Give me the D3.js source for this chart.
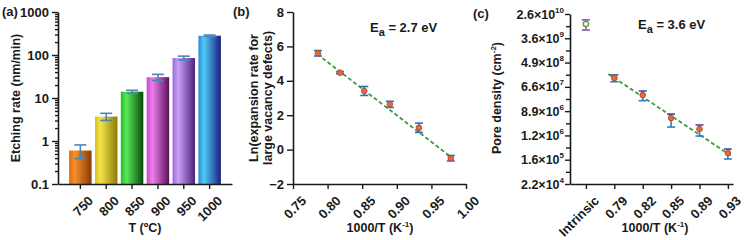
<!DOCTYPE html>
<html><head><meta charset="utf-8">
<script src="https://cdn.jsdelivr.net/npm/d3@7"></script>
<style>
body{margin:0;background:#fff;}
svg text{font-family:"Liberation Sans",Arial,sans-serif;font-weight:bold;fill:#1a1a1a;}
</style></head>
<body>
<svg id="chart" width="746" height="240"></svg>
<script>
// ---------- Data ----------
// Panel (a): etching rate vs temperature
const aTemps = ["750", "800", "850", "900", "950", "1000"];
const aRates = [0.6, 3.7, 14.0, 30.5, 85, 281];
const aErrors = [0.21, 0.7, 1.1, 5, 9, 10];
const aYTicks = [0.1, 1, 10, 100, 1000];
// Panel (b): ln(expansion rate) vs 1000/T
const bInvT = [0.786, 0.818, 0.853, 0.890, 0.932, 0.978];
const bLnRate = [5.6, 4.47, 3.41, 2.63, 1.27, -0.5];
const bErrors = [0.16, 0.06, 0.26, 0.18, 0.27, 0.16];
const bFitX = [0.785, 0.980];
const bFitY = [5.55, -0.48];
const bXTicks = [0.75, 0.80, 0.85, 0.90, 0.95, 1.00];
const bYTicks = [-2, 0, 2, 4, 6, 8];
// Panel (c): pore density (ln values of cm^-2) vs 1000/T
const cCategories = ["Intrinsic", "0.79", "0.82", "0.85", "0.89", "0.93"];
const cLnDensity = [23.18, 18.73, 17.33, 15.43, 14.53, 12.55];
const cLnUpper = [23.52, 18.98, 17.66, 15.76, 14.86, 12.88];
const cLnLower = [22.68, 18.42, 16.86, 14.69, 13.95, 12.06];
const cFitIndex = [0.79, 5.18];
const cFitLn = [19.06, 12.22];
const cMajorLnTicks = [10, 12, 14, 16, 18, 20, 22, 24];
const cMinorLnTicks = [11, 13, 15, 17, 19, 21, 23];

const barColors = [
  ["#f5902a", "#e06a0a", "#8a3a05"],
  ["#f2e24a", "#d8c020", "#8c7a08"],
  ["#5ae85a", "#20c020", "#064a0a"],
  ["#ee80ee", "#c848c8", "#5a105a"],
  ["#c8a0f5", "#9a68d8", "#4a2280"],
  ["#50cbf5", "#2a88d8", "#1a1e80"]
];

const svg = d3.select("#chart");
const defs = svg.append("defs");
barColors.forEach((c, i) => {
  const g = defs.append("linearGradient").attr("id", "bg" + i)
    .attr("x1", "0%").attr("x2", "100%").attr("y1", "0%").attr("y2", "0%");
  g.append("stop").attr("offset", "0%").attr("stop-color", c[1]);
  g.append("stop").attr("offset", "25%").attr("stop-color", c[0]);
  g.append("stop").attr("offset", "100%").attr("stop-color", c[2]);
});

function styleAxis(g) {
  g.selectAll(".domain").attr("stroke", "#1a1a1a").attr("stroke-width", 1.6);
  g.selectAll(".tick line").attr("stroke", "#1a1a1a").attr("stroke-width", 1.4);
  g.selectAll(".tick text").attr("font-size", 12.5).attr("fill", "#1a1a1a")
    .style("font-family", '"Liberation Sans",Arial,sans-serif').style("font-weight", "bold");
}
function rotateXLabels(g) {
  g.selectAll(".tick text")
    .attr("font-size", 13)
    .attr("text-anchor", "end")
    .attr("transform", "translate(1,5) rotate(-45)")
    .attr("dx", 0).attr("dy", "0.75em");
}

// ---------- Panel (a) ----------
{
  const x = d3.scaleBand().domain(aTemps).range([58, 232]).paddingInner(0.13).paddingOuter(0.43);
  const y = d3.scaleLog().domain([0.1, 1000]).range([184, 12]);
  const g = svg.append("g");
  aTemps.forEach((t, i) => {
    g.append("rect").attr("x", x(t)).attr("width", x.bandwidth())
      .attr("y", y(aRates[i])).attr("height", y(0.1) - y(aRates[i]))
      .attr("fill", `url(#bg${i})`);
  });
  const eb = g.append("g").attr("stroke", "#4a86b8").attr("stroke-width", 1.6);
  aTemps.forEach((t, i) => {
    const cx = x(t) + x.bandwidth() / 2;
    const hi = y(aRates[i] + aErrors[i]), lo = y(aRates[i] - aErrors[i]);
    eb.append("line").attr("x1", cx).attr("x2", cx).attr("y1", hi).attr("y2", lo);
    eb.append("line").attr("x1", cx - 6).attr("x2", cx + 6).attr("y1", hi).attr("y2", hi);
    eb.append("line").attr("x1", cx - 6).attr("x2", cx + 6).attr("y1", lo).attr("y2", lo);
  });
  const minor = [];
  for (let d = 0.1; d < 1000; d *= 10) for (let k = 2; k <= 9; k++) minor.push(d * k);
  const ym = svg.append("g").attr("transform", "translate(58,0)")
    .call(d3.axisLeft(y).tickValues(minor).tickSize(3).tickFormat(""));
  styleAxis(ym); ym.select(".domain").remove();
  const ya = svg.append("g").attr("transform", "translate(58,0)")
    .call(d3.axisLeft(y).tickValues(aYTicks).tickSize(6).tickSizeOuter(0)
      .tickFormat(d => d >= 1 ? d3.format("d")(d) : String(d)));
  styleAxis(ya);
  ya.selectAll(".tick text").attr("font-size", 13);
  const xa = svg.append("g").attr("transform", "translate(0,184)")
    .call(d3.axisBottom(x).tickSize(5).tickSizeOuter(0));
  styleAxis(xa); rotateXLabels(xa);
  svg.append("text").attr("transform", "translate(20,98) rotate(-90)")
    .attr("text-anchor", "middle").attr("font-size", 12.5).text("Etching rate (nm/min)");
  svg.append("text").attr("x", 145).attr("y", 232).attr("text-anchor", "middle")
    .attr("font-size", 12.5).text("T (ºC)");
  svg.append("text").attr("x", 2).attr("y", 16).attr("font-size", 13).text("(a)");
}

// ---------- Panel (b) ----------
{
  const x = d3.scaleLinear().domain([0.75, 1.0]).range([293, 466]);
  const y = d3.scaleLinear().domain([-2, 8]).range([184, 12]);
  const g = svg.append("g");
  g.append("line").attr("x1", x(bFitX[0])).attr("x2", x(bFitX[1]))
    .attr("y1", y(bFitY[0])).attr("y2", y(bFitY[1]))
    .attr("stroke", "#3f9a3a").attr("stroke-width", 1.8).attr("stroke-dasharray", "4,2.5");
  const eb = g.append("g").attr("stroke", "#2c6fb4").attr("stroke-width", 1.6);
  bInvT.forEach((v, i) => {
    const cx = x(v), hi = y(bLnRate[i] + bErrors[i]), lo = y(bLnRate[i] - bErrors[i]);
    eb.append("line").attr("x1", cx).attr("x2", cx).attr("y1", hi).attr("y2", lo);
    eb.append("line").attr("x1", cx - 4).attr("x2", cx + 4).attr("y1", hi).attr("y2", hi);
    eb.append("line").attr("x1", cx - 4).attr("x2", cx + 4).attr("y1", lo).attr("y2", lo);
  });
  g.selectAll("circle.b").data(bInvT).enter().append("circle")
    .attr("cx", d => x(d)).attr("cy", (d, i) => y(bLnRate[i])).attr("r", 2.8)
    .attr("fill", "#e8683a").attr("stroke", "#b0503a").attr("stroke-width", 1);
  const ya = svg.append("g").attr("transform", "translate(293,0)")
    .call(d3.axisLeft(y).tickValues(bYTicks).tickSize(6).tickSizeOuter(0));
  styleAxis(ya); ya.selectAll(".tick text").attr("font-size", 13);
  const xa = svg.append("g").attr("transform", "translate(0,184)")
    .call(d3.axisBottom(x).tickValues(bXTicks).tickSize(5).tickSizeOuter(0).tickFormat(d3.format(".2f")));
  styleAxis(xa); rotateXLabels(xa);
  const t = svg.append("text").attr("transform", "translate(258,98) rotate(-90)")
    .attr("text-anchor", "middle").attr("font-size", 12.5);
  t.append("tspan").attr("x", 0).attr("dy", 0).text("Ln(expansion rate for");
  t.append("tspan").attr("x", 0).attr("dy", 14).text("large vacancy defects)");
  const xt = svg.append("text").attr("x", 380).attr("y", 232).attr("text-anchor", "middle").attr("font-size", 12.5);
  xt.append("tspan").text("1000/T (K");
  xt.append("tspan").attr("font-size", 8).attr("dy", -5).text("-1");
  xt.append("tspan").attr("dy", 5).text(")");
  const ea = svg.append("text").attr("x", 370).attr("y", 32).attr("font-size", 13);
  ea.append("tspan").text("E");
  ea.append("tspan").attr("font-size", 11).attr("dy", 4).text("a");
  ea.append("tspan").attr("dy", -4).text(" = 2.7 eV");
  svg.append("text").attr("x", 233).attr("y", 16).attr("font-size", 13).text("(b)");
}

// ---------- Panel (c) ----------
{
  const x = d3.scaleLinear().domain([-0.56, 5.18]).range([570, 733]);
  const y = d3.scaleLinear().domain([10, 24]).range([184, 14]);
  const g = svg.append("g");
  g.append("line").attr("x1", x(cFitIndex[0])).attr("x2", x(cFitIndex[1]))
    .attr("y1", y(cFitLn[0])).attr("y2", y(cFitLn[1]))
    .attr("stroke", "#3f9a3a").attr("stroke-width", 1.8).attr("stroke-dasharray", "4,2.5");
  cCategories.forEach((c, i) => {
    const cx = x(i), cy = y(cLnDensity[i]), hi = y(cLnUpper[i]), lo = y(cLnLower[i]);
    const upCol = i === 0 ? "#8a5aa8" : "#4a4aa0";
    const loCol = i === 0 ? "#8a5aa8" : "#2c7cc4";
    g.append("line").attr("x1", cx).attr("x2", cx).attr("y1", hi).attr("y2", cy).attr("stroke", upCol).attr("stroke-width", 1.6);
    g.append("line").attr("x1", cx).attr("x2", cx).attr("y1", cy).attr("y2", lo).attr("stroke", loCol).attr("stroke-width", 1.6);
    g.append("line").attr("x1", cx - 4).attr("x2", cx + 4).attr("y1", hi).attr("y2", hi).attr("stroke", upCol).attr("stroke-width", 1.6);
    g.append("line").attr("x1", cx - 4).attr("x2", cx + 4).attr("y1", lo).attr("y2", lo).attr("stroke", loCol).attr("stroke-width", 1.6);
    if (i === 0) {
      g.append("circle").attr("cx", cx).attr("cy", cy).attr("r", 2.6)
        .attr("fill", "#fff").attr("stroke", "#5a9a40").attr("stroke-width", 1.4);
    } else {
      g.append("circle").attr("cx", cx).attr("cy", cy).attr("r", 2.8)
        .attr("fill", "#e8683a").attr("stroke", "#b0503a").attr("stroke-width", 1);
    }
  });
  const ym = svg.append("g").attr("transform", "translate(570,0)")
    .call(d3.axisLeft(y).tickValues(cMinorLnTicks).tickSize(4).tickFormat(""));
  styleAxis(ym); ym.select(".domain").remove();
  const ya = svg.append("g").attr("transform", "translate(570,0)")
    .call(d3.axisLeft(y).tickValues(cMajorLnTicks).tickSize(5).tickSizeOuter(0).tickFormat(""));
  styleAxis(ya);
  cMajorLnTicks.forEach(n => {
    const v = Math.exp(n);
    const k = Math.floor(Math.log10(v));
    const m = (v / Math.pow(10, k)).toFixed(1);
    const t = svg.append("text").attr("x", 564).attr("y", y(n) + 4.5)
      .attr("text-anchor", "end").attr("font-size", 12.5);
    t.append("tspan").text(m + "×10");
    t.append("tspan").attr("font-size", 8).attr("dy", -6).text(String(k));
  });
  const xa = svg.append("g").attr("transform", "translate(0,184)")
    .call(d3.axisBottom(x).tickValues(d3.range(cCategories.length)).tickSize(5).tickSizeOuter(0)
      .tickFormat(i => cCategories[i]));
  styleAxis(xa); rotateXLabels(xa);
  xa.selectAll(".tick text").filter(i => i === 0).attr("fill", "#2a32a8");
  const yt = svg.append("text").attr("transform", "translate(501,98) rotate(-90)")
    .attr("text-anchor", "middle").attr("font-size", 12.5);
  yt.append("tspan").text("Pore density (cm");
  yt.append("tspan").attr("font-size", 8).attr("dy", -5).text("-2");
  yt.append("tspan").attr("dy", 5).text(")");
  const xt = svg.append("text").attr("x", 655).attr("y", 232).attr("text-anchor", "middle").attr("font-size", 12.5);
  xt.append("tspan").text("1000/T (K");
  xt.append("tspan").attr("font-size", 8).attr("dy", -5).text("-1");
  xt.append("tspan").attr("dy", 5).text(")");
  const ea = svg.append("text").attr("x", 638).attr("y", 29).attr("font-size", 13);
  ea.append("tspan").text("E");
  ea.append("tspan").attr("font-size", 11).attr("dy", 4).text("a");
  ea.append("tspan").attr("dy", -4).text(" = 3.6 eV");
  svg.append("text").attr("x", 473).attr("y", 18).attr("font-size", 13).text("(c)");
}
</script>
</body></html>
